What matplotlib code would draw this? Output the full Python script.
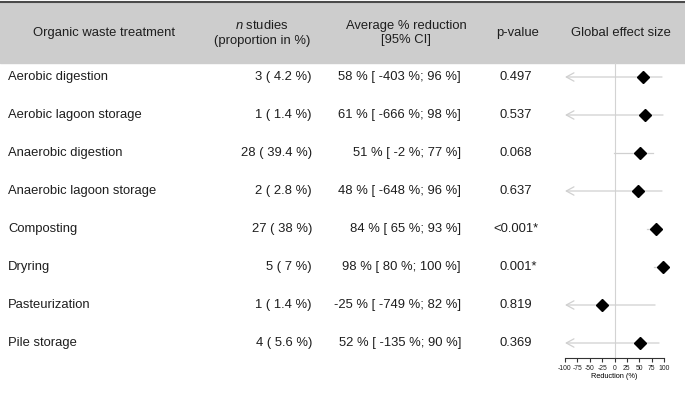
import matplotlib
matplotlib.use("Agg")
import matplotlib.pyplot as plt

# ---------------- data ----------------
treatments = ["Aerobic digestion", "Aerobic lagoon storage", "Anaerobic digestion",
              "Anaerobic lagoon storage", "Composting", "Dryring", "Pasteurization",
              "Pile storage"]
n_studies = [3, 1, 28, 2, 27, 5, 1, 4]
proportion = ["4.2", "1.4", "39.4", "2.8", "38", "7", "1.4", "5.6"]
mean_red = [58, 61, 51, 48, 84, 98, -25, 52]
ci_low = [-403, -666, -2, -648, 65, 80, -749, -135]
ci_high = [96, 98, 77, 96, 93, 100, 82, 90]
p_values = ["0.497", "0.537", "0.068", "0.637", "<0.001*", "0.001*", "0.819", "0.369"]
xticks = [-100, -75, -50, -25, 0, 25, 50, 75, 100]

# ---------------- layout (pixels) ----------------
W, H = 685, 405
FS = 9.4
TC = '#1e1e1e'
plt.rcParams['font.family'] = ['Liberation Sans', 'DejaVu Sans']
plt.rcParams['mathtext.fontset'] = 'custom'
plt.rcParams['mathtext.it'] = 'Liberation Sans:italic'
plt.rcParams['mathtext.rm'] = 'Liberation Sans'
plt.rcParams['text.color'] = TC

fig = plt.figure(figsize=(W / 100, H / 100), dpi=100)
bg = fig.add_axes([0, 0, 1, 1])
bg.set_xlim(0, W)
bg.set_ylim(H, 0)
bg.axis('off')

band_top, band_bot = 2, 63
bg.axhspan(band_top, band_bot, color='#cdcdcd', zorder=0)
bg.axhline(band_top, color='#4a4a4a', lw=1.5, zorder=1)

hy = 33
bg.text(104, hy, "Organic waste treatment", ha='center', va='center', fontsize=FS)
bg.text(262, hy, "$\\it{n}$ studies\n(proportion in %)", ha='center', va='center',
        fontsize=FS, linespacing=1.3)
bg.text(406, hy, "Average % reduction\n[95% CI]", ha='center', va='center',
        fontsize=FS, linespacing=1.3)
bg.text(518, hy, "p-value", ha='center', va='center', fontsize=FS)
bg.text(621, hy, "Global effect size", ha='center', va='center', fontsize=FS)

row0, dy = 77, 38
for i, t in enumerate(treatments):
    y = row0 + dy * i
    bg.text(8, y, t, ha='left', va='center', fontsize=FS)
    bg.text(312, y, f"{n_studies[i]} ( {proportion[i]} %)", ha='right', va='center', fontsize=FS)
    bg.text(461, y, f"{mean_red[i]} % [ {ci_low[i]} %; {ci_high[i]} %]",
            ha='right', va='center', fontsize=FS)
    pv = p_values[i]
    px = 493 if pv.startswith("<") else 499.5
    bg.text(px, y, pv, ha='left', va='center', fontsize=FS)

# ---------------- forest plot ----------------
x_left_px, x_right_px = 565, 664
ax_top_px, ax_bot_px = band_bot, 358
ax = fig.add_axes([x_left_px / W, 1 - ax_bot_px / H,
                   (x_right_px - x_left_px) / W, (ax_bot_px - ax_top_px) / H])
ax.set_xlim(-100, 100)
ax.set_ylim((ax_bot_px - row0) / dy, (ax_top_px - row0) / dy)
ax.patch.set_alpha(0)
for s in ['top', 'left', 'right']:
    ax.spines[s].set_visible(False)
ax.spines['bottom'].set_linewidth(0.8)
ax.spines['bottom'].set_color('#333333')
ax.set_yticks([])
ax.set_xticks(xticks)
ax.set_xticklabels([str(v) for v in xticks])
ax.tick_params(axis='x', labelsize=4.9, length=3, width=0.8, pad=2,
               colors='#333333', labelcolor=TC)
ax.set_xlabel("Reduction (%)", fontsize=5.3, labelpad=0.5)
ax.axvline(0, color='#d3d3d3', lw=0.8, zorder=1)

gray = '#d0d0d0'
for i in range(len(treatments)):
    lo, hi = ci_low[i], ci_high[i]
    if lo < -100:
        ax.annotate("", xy=(-100, i), xytext=(hi, i), xycoords='data',
                    arrowprops=dict(arrowstyle='->,head_length=0.55,head_width=0.3',
                                    color=gray, lw=0.9, shrinkA=0, shrinkB=0),
                    annotation_clip=False, zorder=2)
    else:
        ax.plot([lo, hi], [i, i], color=gray, lw=0.9, zorder=2)
    ax.plot(mean_red[i], i, marker='D', color='black', ms=6, zorder=3, clip_on=False)

fig.savefig("out.png", dpi=100)
